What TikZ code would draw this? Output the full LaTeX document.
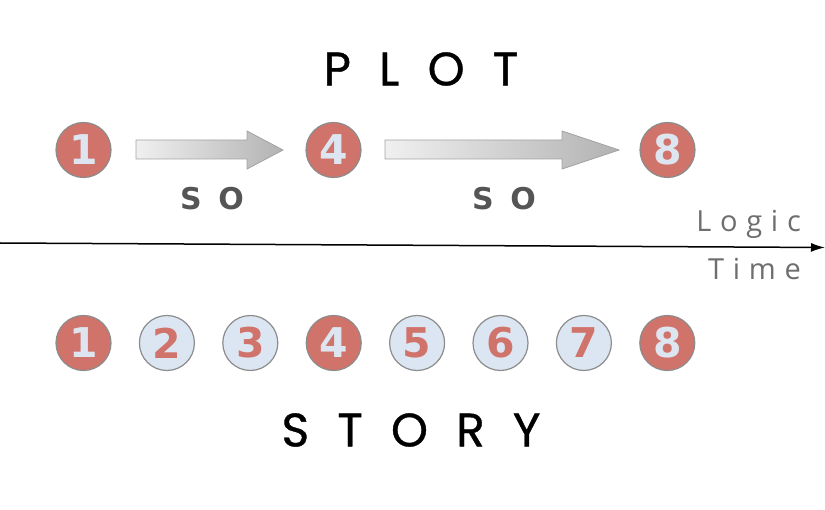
\documentclass[tikz,border=0pt]{standalone}
\usepackage{fontspec}
\usetikzlibrary{arrows.meta,calc}
\newfontfamily\numfont{DejaVu Sans}
\newfontfamily\titlefont[LetterSpace=60,FakeBold=0.8]{Poppins}
\newfontfamily\axisfont[LetterSpace=30]{Open Sans}
\newfontfamily\sofont[LetterSpace=55]{DejaVu Sans}
\definecolor{dotred}{HTML}{D0736A}
\definecolor{dotblue}{HTML}{DCE6F2}
\definecolor{digitpale}{HTML}{DDE6F0}
\definecolor{rimgray}{HTML}{8C8C8C}
\definecolor{axisgray}{HTML}{6E6E6E}
\definecolor{sogray}{HTML}{555555}
\tikzset{
  keydot/.style={circle,draw=rimgray,line width=1.2pt,fill=dotred,minimum size=55pt,inner sep=0pt,
    text=digitpale,font=\numfont\bfseries\fontsize{41}{41}\selectfont},
  plaindot/.style={circle,draw=rimgray,line width=1.2pt,fill=dotblue,minimum size=55pt,inner sep=0pt,
    text=dotred,font=\numfont\bfseries\fontsize{41}{41}\selectfont},
  titletext/.style={font=\titlefont\fontsize{47}{47}\selectfont,text=black,inner sep=0pt},
  axistext/.style={font=\axisfont\fontsize{29}{29}\selectfont,text=axisgray,inner sep=0pt},
  sotext/.style={font=\sofont\bfseries\fontsize{30}{30}\selectfont,text=sogray,inner sep=0pt},
  blockarrow/.style={draw=rimgray!80,line width=0.8pt,left color=gray!12,right color=gray!60},
}
\begin{document}
\begin{tikzpicture}[x=1pt,y=-1pt]
\useasboundingbox (0,0) rectangle (825,510);
% titles
\node[titletext] (plot) at (421,69) {PLOT};
\node[titletext] (story) at (411,430) {STORY};
% top row
\node[keydot] (p1) at (83.5,150) {1};
\node[keydot] (p4) at (333.5,150) {4};
\node[keydot] (p8) at (667.5,150) {8};
% block arrows
\path[blockarrow] (136,140) -- (247,140) -- (247,131) -- (283,150) -- (247,169) -- (247,159) -- (136,159) -- cycle;
\path[blockarrow] (385,140) -- (562,140) -- (562,131) -- (619,150) -- (562,169) -- (562,159) -- (385,159) -- cycle;
\node[sotext] (so1) at (212,199) {SO};
\node[sotext] (so2) at (504,199) {SO};
% axis
\coordinate (axL) at (0,243);
\coordinate (axR) at (825,247.5);
\draw[line width=1.5pt,-{Latex[length=14pt,width=9pt]}] (axL) -- (axR);
\node[axistext,anchor=base east] (logic) at (801,232) {Logic};
\node[axistext,anchor=base east] (time) at (801,280) {Time};
% bottom row
\node[keydot] (s1) at (83.5,343) {1};
\node[plaindot] (s2) at (166.9,343) {2};
\node[plaindot] (s3) at (250.3,343) {3};
\node[keydot] (s4) at (333.7,343) {4};
\node[plaindot] (s5) at (417.1,343) {5};
\node[plaindot] (s6) at (500.5,343) {6};
\node[plaindot] (s7) at (583.9,343) {7};
\node[keydot] (s8) at (667.3,343) {8};
\end{tikzpicture}
\end{document}
